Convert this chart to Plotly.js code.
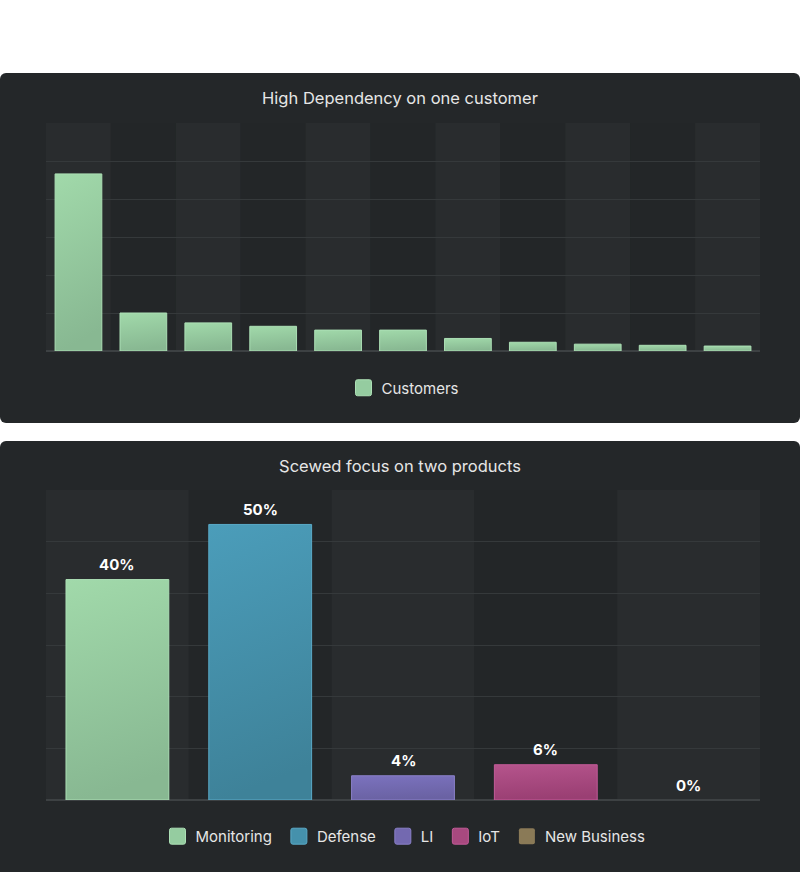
<!DOCTYPE html>
<html>
<head>
<meta charset="utf-8">
<script src="https://cdn.plot.ly/plotly-3.0.1.min.js"></script>
<style>
  html, body { margin: 0; padding: 0; background: #ffffff; }
  body { width: 800px; height: 872px; position: relative; overflow: hidden; }
  .panel { position: absolute; left: 0; width: 800px; background: #242729; border-radius: 6px; overflow: hidden; }
  #customers { top: 73px; height: 350px; }
  #products { top: 441px; height: 440px; }
</style>
</head>
<body>
<div id="customers" class="panel"></div>
<div id="products" class="panel"></div>
<script>
// chart 1 - share per customer (y axis 0..60, no tick labels)
const customerNames = [
  "Customer 1", "Customer 2", "Customer 3", "Customer 4", "Customer 5", "Customer 6",
  "Customer 7", "Customer 8", "Customer 9", "Customer 10", "Customer 11",
];
const customerShares = [46.6, 10, 7.4, 6.5, 5.5, 5.5, 3.3, 2.3, 1.8, 1.5, 1.3];

// chart 2 - share per product
const productNames = ["Monitoring", "Defense", "LI", "IoT", "New Business"];
const productShares = [40, 50, 4.4, 6.4, 0];
const productLabels = ["40%", "50%", "4%", "6%", "0%"];

// colours: flat (legend), top / bottom of the bar gradient, edge
const productColors = ["#95cca0", "#4591ac", "#7369b0", "#a8497f", "#8a7a57"];
const productTops = ["#a1d9aa", "#4b9dba", "#7b72be", "#b5548c", "#958560"];
const productBottoms = ["#88b892", "#3e8299", "#6a62a3", "#9a3f73", "#7d6e4e"];
const productEdges = ["#acdfb5", "#5aaac8", "#8a80c8", "#c25a98", "#a08e68"];

const FONT = "Inter, 'Noto Sans', sans-serif";
const TEXT = "#e6e6e6";
const GRID = "#35393b";
const BAND_LIGHT = "#292c2e";
const BAND_DARK = "#232628";
const SVG_NS = "http://www.w3.org/2000/svg";

function columnBands(n) {
  const shapes = [];
  for (let i = 0; i < n; i++) {
    shapes.push({
      type: "rect",
      xref: "x",
      yref: "paper",
      x0: i - 0.5,
      x1: i + 0.5,
      y0: 0,
      y1: 1,
      fillcolor: i % 2 === 0 ? BAND_LIGHT : BAND_DARK,
      line: { width: 0 },
      layer: "below",
    });
  }
  return shapes;
}

function baseLayout(title, height, margin, n, yMax, legendY) {
  return {
    width: 800,
    height,
    margin,
    paper_bgcolor: "rgba(0,0,0,0)",
    plot_bgcolor: "rgba(0,0,0,0)",
    font: { family: FONT, color: TEXT },
    title: {
      text: title,
      font: { family: FONT, size: 16.5, color: TEXT },
      x: 0.5,
      xanchor: "center",
      yref: "container",
      y: 1 - 25 / height,
      yanchor: "middle",
    },
    xaxis: {
      type: "category",
      range: [-0.5, n - 0.5],
      showticklabels: false,
      showgrid: false,
      zeroline: false,
      showline: false,
      ticks: "",
      fixedrange: true,
    },
    yaxis: {
      range: [0, yMax],
      dtick: yMax / 6,
      showticklabels: false,
      showgrid: true,
      gridcolor: GRID,
      gridwidth: 1,
      zeroline: true,
      zerolinecolor: "#3d4143",
      zerolinewidth: 1.5,
      ticks: "",
      fixedrange: true,
    },
    bargap: 0.28,
    showlegend: true,
    legend: {
      orientation: "h",
      x: 0.5,
      xanchor: "center",
      y: legendY,
      yanchor: "middle",
      font: { family: FONT, size: 15, color: TEXT },
      bgcolor: "rgba(0,0,0,0)",
    },
    shapes: columnBands(n),
  };
}

// plotly bars have no gradient fill, so add one to the drawn svg
function applyGradients(el, tops, bottoms) {
  const defs = el.querySelector("svg.main-svg defs");
  if (!defs) return;
  el.querySelectorAll(".barlayer .trace").forEach((traceEl, i) => {
    const id = `${el.id}-grad-${i}`;
    const grad = document.createElementNS(SVG_NS, "linearGradient");
    grad.setAttribute("id", id);
    grad.setAttribute("x1", "0");
    grad.setAttribute("y1", "0");
    grad.setAttribute("x2", "0.15");
    grad.setAttribute("y2", "1");
    [[0, tops[i]], [1, bottoms[i]]].forEach(([offset, color]) => {
      const stop = document.createElementNS(SVG_NS, "stop");
      stop.setAttribute("offset", String(offset));
      stop.setAttribute("stop-color", color);
      grad.appendChild(stop);
    });
    defs.appendChild(grad);
    traceEl.querySelectorAll("path").forEach(p => {
      p.style.fill = `url(#${id})`;
    });
  });
}

// larger rounded legend swatches, nudged towards the label
function roundLegendSwatches(el) {
  el.querySelectorAll(".legendpoints path").forEach(p => {
    p.setAttribute("d", "M-4,-8H8A2,2 0 0 1 10,-6V6A2,2 0 0 1 8,8H-4A2,2 0 0 1 -6,6V-6A2,2 0 0 1 -4,-8Z");
  });
}

const cfg = { displayModeBar: false, staticPlot: true };

const customersEl = document.getElementById("customers");
const productsEl = document.getElementById("products");

const customerTrace = {
  type: "bar",
  name: "Customers",
  x: customerNames,
  y: customerShares,
  marker: { color: "#95cca0", line: { color: "#acdfb5", width: 1 } },
  hoverinfo: "skip",
};

Plotly.newPlot(
  customersEl,
  [customerTrace],
  baseLayout("High Dependency on one customer", 350, { l: 46, r: 40, t: 50, b: 72 }, customerNames.length, 60, -37 / 228),
  cfg,
).then(() => {
  applyGradients(customersEl, [productTops[0]], [productBottoms[0]]);
  roundLegendSwatches(customersEl);
});

const productTraces = productNames.map((name, i) => ({
  type: "bar",
  name,
  x: [name],
  y: [productShares[i]],
  marker: {
    color: productColors[i],
    line: { color: productEdges[i], width: productShares[i] > 0 ? 1 : 0 },
  },
  hoverinfo: "skip",
}));

const productLayout = baseLayout(
  "Scewed focus on two products",
  440,
  { l: 46, r: 40, t: 49, b: 80.5 },
  productNames.length,
  56.25,
  -36.5 / 310.5,
);
productLayout.barmode = "overlay";
productLayout.annotations = productNames.map((name, i) => ({
  x: name,
  y: productShares[i],
  xref: "x",
  yref: "y",
  text: productLabels[i],
  showarrow: false,
  yanchor: "middle",
  yshift: 15,
  font: { family: FONT, size: 15, color: "#ffffff", weight: 700 },
}));

Plotly.newPlot(productsEl, productTraces, productLayout, cfg).then(() => {
  applyGradients(productsEl, productTops, productBottoms);
  roundLegendSwatches(productsEl);
});
</script>
</body>
</html>
